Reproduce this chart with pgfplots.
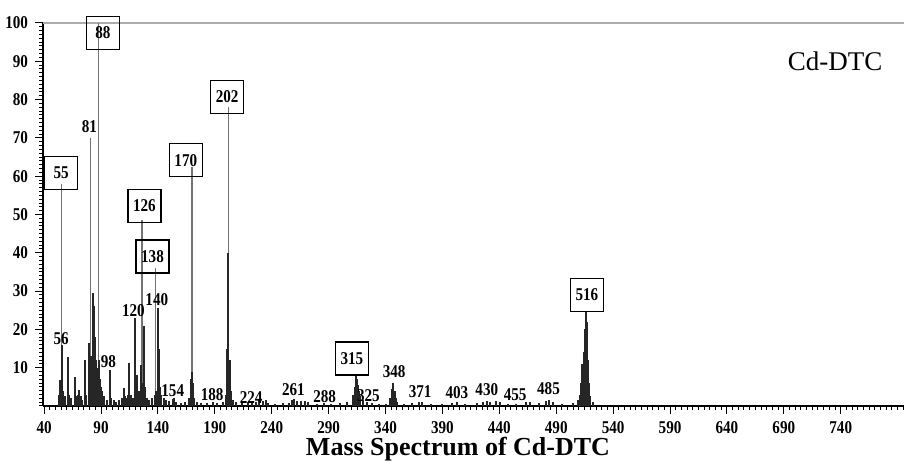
\documentclass[border=0pt]{standalone}
\usepackage{pgfplots}
\usepackage{pgfplotstable}
\pgfplotsset{compat=1.18}
\usepackage{fontspec}
\setmainfont{Liberation Serif}
\newfontfamily\narrowserif[FakeStretch=0.84]{Liberation Serif}

% Principal fragment lines (drawn as thin grey sticks)
\pgfplotstableread{
mz int
55 58
81 70
88 100
126 48.6
138 36
170 62.4
202 78
}\tallpeaks

% Ion clusters and minor fragments
\pgfplotstableread{
mz int
53 3
54 6.8
55 5
56 16
57 4
58 2.5
61 12.9
62 3
64 2
67 7.7
68 2.5
70 3
71 4.2
72 2.5
73 1.5
76 12
77 3
79 16.4
80 9
81 13
82 10
83 29.5
84 26
85 18
86 12
87 10
88 12
89 7
90 5
91 4
93 2.5
95 1.5
98 9.4
99 2
101 1.5
103 1
106 1.5
108 2
110 4.6
111 2.5
112 2
114 3
115 11.1
116 3
118 2
120 22.9
121 3
122 8
123 4
125 10.7
126 6
127 3
128 21
129 5
130 2
132 1.5
135 2
137 3
138 4
140 25.5
141 15
142 5
143 3
145 2
147 1.5
150 1.2
153 1.8
154 2.2
156 1
160 0.8
164 1
167 2
169 7
170 9
171 6
172 2
174 1
178 0.8
183 0.8
188 1
192 0.8
197 1
200 3
201 15
202 40
203 12
204 4
206 1.5
209 1
214 0.8
219 1
223 1
226 1
229 1.5
232 1.2
235 1.5
237 0.8
243 0.6
250 0.7
255 0.8
258 1.5
260 1.7
262 1.2
266 1.3
269 1.2
272 1
280 0.6
286 0.7
292 0.6
300 0.8
306 1
311 3
313 5
314 7.8
315 7
316 5.5
317 4
318 2.5
320 1.5
324 1
328 0.8
334 0.6
340 0.6
344 2
346 4.5
347 6
348 4
349 2
350 1
356 0.6
363 0.7
369 1
372 1
380 0.6
390 0.6
398 0.8
403 1
410 0.6
420 0.7
426 1
429 1.2
432 1
437 1.2
441 1
448 0.6
455 0.6
463 1
467 1
475 0.7
481 1.3
484 1.5
487 1
495 0.5
505 0.8
509 1.5
511 3
512 6
513 11
514 14
515 20
516 24.5
517 22
518 12
519 6
520 2.5
522 1
}\clusters

\begin{document}
\begin{tikzpicture}[
  lab/.style={font=\narrowserif\fontsize{9}{10}\selectfont\bfseries, inner sep=0pt},
  boxlab/.style={lab, draw, line width=0.65pt, minimum width=16.5pt, minimum height=16.5pt}
]
\begin{axis}[
  name=ax,
  scale only axis, width=430.5pt, height=191.5pt,
  xmin=39, xmax=795.6, ymin=0, ymax=100,
  axis x line=bottom, axis y line=left,
  axis line style={-},
  x axis line style={line width=1.3pt},
  y axis line style={line width=0.7pt},
  xtick={40,90,...,740}, ytick={10,20,...,100},
  minor xtick={40,45,...,795}, minor ytick={0,1,...,100},
  tick align=outside,
  major tick length=4pt, minor tick length=2pt,
  tick style={black, line width=0.5pt},
  ticklabel style={font=\narrowserif\fontsize{9}{10}\selectfont\bfseries},
  /pgf/number format/assume math mode=true,
  clip=false,
]
\draw[gray!65, line width=0.6pt] (axis cs:39,100) -- (axis cs:795.6,100);

\addplot[ycomb, no marks, black!55, line width=0.65pt] table[x=mz, y=int] {\tallpeaks};
\addplot[ycomb, no marks, black!85, line width=1.0pt] table[x=mz, y=int] {\clusters};

% boxed fragment labels
\node[boxlab] at (axis cs:54.9,60.8) {55};
\node[boxlab] at (axis cs:91.6,97.4) {88};
\node[boxlab] at (axis cs:128.1,52.3) {126};
\node[boxlab] at (axis cs:135.2,39.0) {138};
\node[boxlab] at (axis cs:164.5,64.2) {170};
\node[boxlab] at (axis cs:200.8,80.7) {202};
\node[boxlab] at (axis cs:310.4,12.4) {315};
\node[boxlab] at (axis cs:516.9,29.0) {516};

% plain fragment labels
\node[lab] at (axis cs:79.8,72.9) {81};
\node[lab] at (axis cs:55,17.7) {56};
\node[lab] at (axis cs:96.5,11.6) {98};
\node[lab] at (axis cs:118.5,25) {120};
\node[lab] at (axis cs:139,27.9) {140};
\node[lab] at (axis cs:153,3.9) {154};
\node[lab] at (axis cs:187.6,2.9) {188};
\node[lab] at (axis cs:221.9,2.2) {224};
\node[lab] at (axis cs:259,4.2) {261};
\node[lab] at (axis cs:286.5,2.4) {288};
\node[lab] at (axis cs:325,2.6) {325};
\node[lab] at (axis cs:347.6,9) {348};
\node[lab] at (axis cs:370.4,3.7) {371};
\node[lab] at (axis cs:402.7,3.6) {403};
\node[lab] at (axis cs:429,4.2) {430};
\node[lab] at (axis cs:453.9,2.9) {455};
\node[lab] at (axis cs:483.2,4.6) {485};

\node[font=\fontsize{13.5}{16}\selectfont, inner sep=0pt] at (axis cs:735,89.9) {Cd-DTC};
\end{axis}
\node[font=\fontsize{13}{15}\selectfont\bfseries, inner sep=0pt]
  at ([shift={(207.5pt,-21.5pt)}]ax.south west) {Mass Spectrum of Cd-DTC};
\pgfresetboundingbox
\path[use as bounding box] ([shift={(-21.5pt,-31.5pt)}]ax.south west) rectangle ([shift={(0pt,11.5pt)}]ax.north east);
\end{tikzpicture}
\end{document}
